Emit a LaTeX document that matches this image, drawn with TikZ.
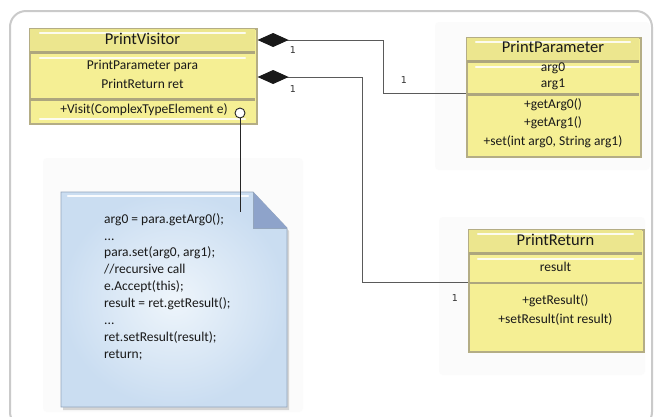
\documentclass[tikz,border=0pt]{standalone}
\usepackage{fontspec}
\setmainfont{Carlito}
\newfontfamily\numfont{DejaVu Sans}
\usetikzlibrary{arrows.meta,shadows}

\definecolor{framecol}{HTML}{CACACA}
\definecolor{classfill}{HTML}{F5EF94}
\definecolor{titlefill}{HTML}{ECE68E}
\definecolor{boxedge}{HTML}{B4AD85}
\definecolor{bandcol}{HTML}{ADA67E}
\definecolor{linkcol}{HTML}{5A5A5A}
\definecolor{noteinner}{HTML}{EEF5FB}
\definecolor{noteouter}{HTML}{CADDF1}
\definecolor{noteedge}{HTML}{93A5BC}
\definecolor{foldcol}{HTML}{8EA3CA}
\definecolor{haze}{HTML}{FBFBFB}

\tikzset{
  classbox/.style={draw=boxedge, line width=1.6pt, fill=classfill, inner sep=0pt,
    drop shadow={shadow xshift=1pt, shadow yshift=-1.5pt, opacity=.2}},
  band/.style={fill=bandcol},
  gloss/.style={draw=white, line width=2.4pt, opacity=.85, line cap=round},
  ctitle/.style={font=\fontsize{16.5}{18}\selectfont, text=black!90, inner sep=0pt,
    text height=11pt, text depth=3pt},
  cline/.style={font=\fontsize{13.5}{15}\selectfont, text=black!90, inner sep=0pt,
    text height=9pt, text depth=3pt},
  notetext/.style={font=\fontsize{13.5}{15}\selectfont, text=black!90, inner sep=0pt,
    text height=9pt, text depth=3pt, anchor=west},
  mult/.style={font=\numfont\fontsize{9.5}{11}\selectfont, text=black!80, inner sep=0pt},
  assoc/.style={draw=linkcol, line width=1pt,
    {Diamond[length=31pt,width=14pt,fill=black!90,color=black!90]}-},
  link/.style={draw=black!85, line width=.9pt},
  port/.style={circle, draw=black!85, fill=white, line width=.9pt, minimum size=10pt, inner sep=0pt},
}

\begin{document}
\begin{tikzpicture}[x=1pt,y=-1pt]
\useasboundingbox (0,0) rectangle (654,416);
\fill[white] (0,0) rectangle (654,416);

% outer panel
\draw[framecol, line width=2pt, rounded corners=16pt] (10,11) rectangle (652,428);

% faint backdrops behind the elements
\fill[haze, rounded corners=4pt] (435,22) rectangle (650,170);
\fill[haze, rounded corners=4pt] (439,217) rectangle (645,375);
\fill[haze, rounded corners=4pt] (43,158) rectangle (303,412);

% ---------- PrintVisitor ----------
\node[classbox, anchor=north west, minimum width=227pt, minimum height=95pt] (pv) at (29,28) {};
\fill[titlefill] (29.8,28.8) rectangle (255.2,51);
\fill[band] (29.8,51) rectangle (255.2,54);
\fill[band] (29.8,97.5) rectangle (255.2,100.5);
\draw[gloss] (40,33) -- (245,33);
\draw[gloss] (40,58) -- (245,58);
\draw[gloss] (40,119) -- (245,119);
\node[ctitle] (pv-name) at (142.5,40) {PrintVisitor};
\node[cline] (pv-a1) at (142.5,66) {PrintParameter para};
\node[cline] (pv-a2) at (142.5,85) {PrintReturn ret};
\node[cline] (pv-o1) at (144,110) {+Visit(ComplexTypeElement e)};

% ---------- PrintParameter ----------
\node[classbox, anchor=north west, minimum width=174pt, minimum height=119pt] (pp) at (466,37) {};
\fill[titlefill] (466.8,37.8) rectangle (639.2,60);
\fill[band] (466.8,60) rectangle (639.2,63);
\fill[band] (466.8,93) rectangle (639.2,95.5);
\draw[gloss] (476,42) -- (630,42);
\draw[gloss] (476,67) -- (630,67);
\node[ctitle] (pp-name) at (553,48) {PrintParameter};
\node[cline] (pp-a1) at (553,68) {arg0};
\node[cline] (pp-a2) at (553,84) {arg1};
\node[cline] (pp-o1) at (553,105) {+getArg0()};
\node[cline] (pp-o2) at (553,123) {+getArg1()};
\node[cline] (pp-o3) at (553,142) {+set(int arg0, String arg1)};

% ---------- PrintReturn ----------
\node[classbox, anchor=north west, minimum width=175pt, minimum height=122pt] (pr) at (468,229) {};
\fill[titlefill] (468.8,229.8) rectangle (642.2,252);
\fill[band] (468.8,252) rectangle (642.2,255);
\fill[band] (468.8,281.5) rectangle (642.2,284);
\draw[gloss] (478,234) -- (633,234);
\draw[gloss] (478,259) -- (633,259);
\node[ctitle] (pr-name) at (555.5,241) {PrintReturn};
\node[cline] (pr-a1) at (555.5,268) {result};
\node[cline] (pr-o1) at (555.5,301) {+getResult()};
\node[cline] (pr-o2) at (555.5,320) {+setResult(int result)};

% ---------- note with folded corner ----------
\fill[black, opacity=.15] (63,195) -- (255,195) -- (289,231) -- (289,410) -- (63,410) -- cycle;
\shade[inner color=noteinner, outer color=noteouter]
  (61,192) -- (253,192) -- (287,228) -- (287,407) -- (61,407) -- cycle;
\draw[noteedge, line width=.8pt]
  (61,192) -- (253,192) -- (287,228) -- (287,407) -- (61,407) -- cycle;
\draw[gloss, opacity=.9] (68,196) -- (248,196);
\fill[foldcol] (253,192) -- (253,228) -- (287,228) -- cycle;
\draw[noteedge, line width=.6pt] (253,192) -- (253,228) -- (287,228);

\node[notetext] (code1) at (104,220) {arg0 = para.getArg0();};
\node[notetext] (code2) at (104,237) {...};
\node[notetext] (code3) at (104,253.5) {para.set(arg0, arg1);};
\node[notetext] (code4) at (104,270.5) {//recursive call};
\node[notetext] (code5) at (104,287) {e.Accept(this);};
\node[notetext] (code6) at (104,304) {result = ret.getResult();};
\node[notetext] (code7) at (104,321) {...};
\node[notetext] (code8) at (104,338) {ret.setResult(result);};
\node[notetext] (code9) at (104,355) {return;};

% ---------- connectors ----------
\draw[assoc] ([yshift=-12pt]pv.north east) -| ([xshift=-83pt,yshift=-56pt]pp.north west)
  -- ([yshift=-56pt]pp.north west);
\draw[assoc] ([yshift=-49pt]pv.north east) -| ([xshift=-106pt,yshift=-53pt]pr.north west)
  -- ([yshift=-53pt]pr.north west);

\node[mult] (m1) at (293,50) {1};
\node[mult] (m2) at (293,89) {1};
\node[mult] (m3) at (404,80) {1};
\node[mult] (m4) at (455,298) {1};

\node[port] (pvport) at (240,113) {};
\coordinate (noteend) at (240,212);
\draw[link] (pvport.south) -- (noteend);
\end{tikzpicture}
\end{document}
